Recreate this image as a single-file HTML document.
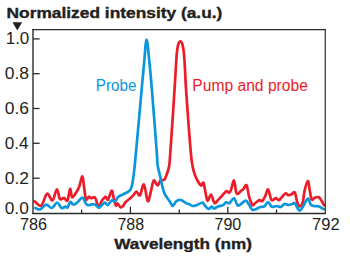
<!DOCTYPE html>
<html><head><meta charset="utf-8"><style>
html,body{margin:0;padding:0;background:#fff;}
svg{display:block;}
text{font-family:"Liberation Sans",sans-serif;}
</style></head><body>
<svg width="350" height="256" viewBox="0 0 350 256">
<rect width="350" height="256" fill="#fff"/>
<text x="6.53" y="17.60" font-size="14.60" font-weight="bold" fill="#231f20" stroke="#231f20" stroke-width="0.35" textLength="215.85" lengthAdjust="spacingAndGlyphs">Normalized intensity (a.u.)</text>
<text x="5.69" y="43.70" font-size="16.00" font-weight="normal" fill="#231f20" textLength="23.63" lengthAdjust="spacingAndGlyphs">1.0</text>
<text x="4.79" y="78.80" font-size="16.00" font-weight="normal" fill="#231f20" textLength="24.29" lengthAdjust="spacingAndGlyphs">0.8</text>
<text x="4.77" y="113.60" font-size="16.00" font-weight="normal" fill="#231f20" textLength="24.28" lengthAdjust="spacingAndGlyphs">0.6</text>
<text x="4.82" y="148.60" font-size="16.00" font-weight="normal" fill="#231f20" textLength="23.79" lengthAdjust="spacingAndGlyphs">0.4</text>
<text x="4.73" y="183.60" font-size="16.00" font-weight="normal" fill="#231f20" textLength="24.26" lengthAdjust="spacingAndGlyphs">0.2</text>
<text x="4.76" y="213.60" font-size="16.00" font-weight="normal" fill="#231f20" textLength="24.06" lengthAdjust="spacingAndGlyphs">0.0</text>
<text x="19.93" y="229.90" font-size="16.00" font-weight="normal" fill="#231f20" textLength="27.08" lengthAdjust="spacingAndGlyphs">786</text>
<text x="117.45" y="229.90" font-size="16.00" font-weight="normal" fill="#231f20" textLength="26.68" lengthAdjust="spacingAndGlyphs">788</text>
<text x="214.44" y="229.90" font-size="16.00" font-weight="normal" fill="#231f20" textLength="26.88" lengthAdjust="spacingAndGlyphs">790</text>
<text x="312.14" y="229.90" font-size="16.00" font-weight="normal" fill="#231f20" textLength="27.66" lengthAdjust="spacingAndGlyphs">792</text>
<text x="114.27" y="248.90" font-size="15.00" font-weight="bold" fill="#231f20" stroke="#231f20" stroke-width="0.35" textLength="137.80" lengthAdjust="spacingAndGlyphs">Wavelength (nm)</text>
<text x="95.83" y="91.10" font-size="16.00" font-weight="normal" fill="#0a96dc" textLength="40.55" lengthAdjust="spacingAndGlyphs">Probe</text>
<text x="192.31" y="91.20" font-size="16.00" font-weight="normal" fill="#ec1c28" textLength="115.56" lengthAdjust="spacingAndGlyphs">Pump and probe</text>
<polygon points="12.5,22.3 22.1,22.3 17.3,30.4" fill="#231f20"/>
<path d="M34.6 201.3 C35.7 202.0 39.2 206.9 41.3 205.6 C43.4 204.3 45.1 194.5 47.0 193.7 C48.9 192.8 50.9 201.2 52.5 200.5 C54.1 199.8 55.6 189.5 56.9 189.3 C58.1 189.1 58.8 197.7 60.0 199.1 C61.2 200.5 62.8 197.6 64.1 197.8 C65.3 198.0 66.5 202.0 67.5 200.5 C68.5 199.0 69.3 189.5 70.1 189.0 C70.9 188.5 71.1 197.0 72.2 197.4 C73.4 197.8 75.7 193.0 76.9 191.2 C78.1 189.4 78.4 188.9 79.3 186.5 C80.2 184.1 81.6 176.0 82.4 176.5 C83.2 177.0 83.8 185.8 84.4 189.6 C85.0 193.4 85.3 198.4 86.0 199.6 C86.7 200.8 87.9 196.9 88.7 196.7 C89.5 196.5 90.0 198.1 91.0 198.2 C92.0 198.3 93.9 196.5 94.9 197.4 C95.9 198.3 96.6 202.1 97.2 203.7 C97.9 205.3 98.0 207.3 98.8 206.8 C99.6 206.3 100.8 202.2 102.0 200.5 C103.2 198.8 104.7 196.9 105.7 196.8 C106.7 196.7 106.9 200.7 107.9 199.7 C108.9 198.7 110.7 191.5 111.6 190.8 C112.5 190.1 112.6 193.4 113.1 195.3 C113.6 197.2 114.1 200.3 114.6 202.0 C115.1 203.7 115.6 205.5 116.1 205.7 C116.6 205.9 116.8 203.2 117.5 203.4 C118.2 203.7 119.6 206.7 120.5 207.2 C121.4 207.7 121.8 207.3 122.7 206.4 C123.6 205.5 124.5 203.3 125.7 202.0 C127.0 200.7 128.8 199.6 130.2 198.3 C131.6 197.1 132.9 195.6 134.0 194.5 C135.1 193.4 135.5 191.4 136.5 191.5 C137.5 191.6 138.8 196.5 140.0 195.3 C141.2 194.1 142.6 183.5 143.9 184.5 C145.2 185.5 146.7 199.8 147.8 201.1 C148.9 202.4 149.7 195.7 150.7 192.3 C151.7 188.9 152.5 181.7 153.7 180.6 C154.8 179.5 156.5 185.5 157.6 185.5 C158.7 185.5 159.4 181.6 160.5 180.6 C161.6 179.6 163.3 180.9 164.4 179.6 C165.5 178.3 166.5 175.2 167.3 172.8 C168.1 170.4 168.8 168.8 169.3 165.0 C169.8 161.2 169.6 162.5 170.5 150.0 C171.4 137.5 173.6 104.7 174.5 90.0 C175.4 75.3 175.8 68.7 176.2 62.0 C176.6 55.3 176.8 53.0 177.2 50.0 C177.6 47.0 177.9 45.5 178.4 44.0 C178.9 42.5 179.7 41.3 180.3 41.3 C181.0 41.3 181.8 42.5 182.3 44.0 C182.8 45.5 183.1 47.0 183.5 50.0 C183.9 53.0 184.2 55.3 184.6 62.0 C185.0 68.7 185.4 79.5 186.1 90.0 C186.8 100.5 187.9 115.6 188.6 125.0 C189.3 134.4 189.8 140.4 190.3 146.5 C190.8 152.6 191.2 157.2 191.8 161.5 C192.4 165.8 193.1 169.1 194.0 172.2 C194.9 175.3 196.0 177.8 197.2 180.0 C198.4 182.2 200.1 185.0 201.2 185.5 C202.2 186.0 202.7 181.3 203.5 182.8 C204.3 184.3 205.2 191.5 205.9 194.5 C206.6 197.5 206.8 201.0 207.7 201.0 C208.5 201.0 209.9 194.2 211.0 194.5 C212.1 194.8 213.3 202.1 214.5 203.0 C215.7 203.9 216.7 201.2 218.0 200.0 C219.3 198.8 220.8 197.0 222.2 195.5 C223.6 194.0 225.4 191.5 226.6 191.1 C227.8 190.7 228.6 193.0 229.3 192.8 C230.0 192.6 230.2 192.1 231.0 190.0 C231.8 187.9 233.2 180.2 234.0 180.5 C234.8 180.8 235.4 189.4 236.0 191.7 C236.6 193.9 237.0 194.1 237.8 194.0 C238.6 193.9 240.0 191.7 240.9 190.9 C241.8 190.1 242.4 190.1 243.3 189.2 C244.2 188.3 245.6 184.1 246.6 185.3 C247.6 186.5 248.1 193.3 249.1 196.6 C250.1 199.9 251.2 203.9 252.3 205.0 C253.4 206.1 254.2 203.8 255.4 203.0 C256.6 202.2 258.2 200.4 259.3 200.1 C260.4 199.8 261.3 201.8 262.3 201.1 C263.3 200.4 264.2 198.1 265.2 196.2 C266.2 194.2 267.1 188.9 268.1 189.4 C269.1 189.9 270.2 197.3 271.0 199.1 C271.8 200.9 272.1 200.2 272.9 200.1 C273.7 199.9 274.9 198.2 275.9 198.2 C276.9 198.2 277.7 200.4 278.8 200.1 C279.9 199.8 281.6 197.3 282.7 196.2 C283.8 195.1 284.6 193.5 285.6 193.3 C286.6 193.1 287.5 195.0 288.5 195.2 C289.5 195.4 290.4 194.8 291.5 194.3 C292.6 193.9 293.9 191.3 294.8 192.5 C295.7 193.7 296.3 199.3 297.1 201.6 C297.9 203.9 298.5 205.9 299.4 206.2 C300.3 206.5 301.6 205.9 302.5 203.2 C303.4 200.5 303.8 193.9 304.7 190.2 C305.6 186.5 307.0 181.2 307.8 181.0 C308.6 180.8 308.9 185.6 309.5 188.7 C310.1 191.8 310.8 197.9 311.6 199.4 C312.5 200.9 313.5 198.2 314.6 197.8 C315.7 197.4 317.4 196.8 318.4 197.1 C319.4 197.4 319.8 198.1 320.7 199.4 C321.6 200.7 323.2 203.7 323.8 204.7 C324.4 205.7 324.2 205.1 324.3 205.2" fill="none" stroke="#ec1c28" stroke-width="2.7" stroke-linejoin="round" stroke-linecap="round"/>
<path d="M35.4 208.0 C36.2 208.2 38.4 210.0 40.2 209.4 C42.0 208.8 44.4 204.8 46.3 204.6 C48.2 204.4 50.0 208.3 51.8 208.0 C53.6 207.7 55.7 202.5 57.3 202.5 C58.9 202.5 60.0 207.3 61.4 208.0 C62.8 208.7 64.5 206.7 65.5 206.6 C66.5 206.5 66.7 208.3 67.5 207.5 C68.3 206.7 69.4 202.5 70.3 202.0 C71.2 201.5 71.9 204.3 73.0 204.5 C74.1 204.7 75.3 204.1 76.9 202.9 C78.5 201.8 81.0 197.6 82.4 197.6 C83.8 197.6 84.6 201.6 85.5 202.9 C86.4 204.2 87.0 204.9 87.9 205.2 C88.8 205.5 89.8 204.6 91.0 204.5 C92.2 204.4 93.6 204.0 94.9 204.5 C96.2 205.0 97.8 207.3 98.8 207.6 C99.8 207.8 100.0 206.8 101.0 206.0 C102.0 205.2 103.8 202.9 104.9 202.7 C106.1 202.5 106.8 205.4 107.9 205.0 C109.0 204.6 110.4 201.1 111.6 200.5 C112.8 199.9 114.2 201.8 115.3 201.2 C116.4 200.6 116.8 198.0 118.3 196.8 C119.8 195.6 122.2 194.9 124.2 193.8 C126.2 192.7 128.8 191.8 130.2 190.1 C131.6 188.4 131.7 187.3 132.4 183.4 C133.1 179.5 134.0 172.5 134.6 166.9 C135.2 161.3 135.0 162.8 136.2 150.0 C137.4 137.2 140.3 104.7 141.6 90.0 C142.9 75.3 143.4 70.4 144.2 62.0 C145.0 53.6 145.7 39.6 146.6 39.6 C147.5 39.6 148.5 53.4 149.4 62.0 C150.3 70.6 150.8 76.3 152.0 91.0 C153.2 105.7 155.7 137.7 156.6 150.0 C157.5 162.3 157.0 160.5 157.6 165.0 C158.2 169.5 159.5 173.3 160.3 177.0 C161.1 180.7 161.8 184.2 162.5 187.0 C163.2 189.8 163.8 191.8 164.5 193.5 C165.2 195.2 166.1 196.2 167.0 197.5 C167.9 198.8 168.8 200.1 169.8 201.5 C170.8 202.9 171.8 206.1 172.9 206.0 C174.0 205.9 174.9 202.2 176.2 201.2 C177.5 200.2 179.2 199.8 180.5 199.9 C181.8 200.0 183.1 201.3 184.2 201.9 C185.2 202.5 186.0 203.2 186.8 203.6 C187.6 203.9 188.1 203.6 189.0 204.0 C189.9 204.4 191.2 205.8 192.5 206.0 C193.8 206.2 195.3 205.6 197.0 205.0 C198.7 204.4 201.2 202.5 202.5 202.5 C203.8 202.5 203.5 203.9 204.5 205.0 C205.5 206.1 207.3 208.8 208.5 209.0 C209.7 209.2 210.6 206.6 211.5 206.5 C212.4 206.4 212.9 208.5 214.0 208.5 C215.1 208.5 216.5 207.1 218.0 206.5 C219.5 205.9 221.8 205.8 223.1 205.1 C224.4 204.4 225.0 202.6 226.1 202.3 C227.2 202.0 228.1 203.8 229.4 203.1 C230.7 202.4 232.6 198.0 234.0 198.4 C235.4 198.8 236.4 204.5 237.6 205.4 C238.8 206.3 239.5 204.8 240.9 204.0 C242.3 203.2 244.4 200.6 245.8 200.7 C247.2 200.8 248.0 203.3 249.1 204.8 C250.2 206.3 251.2 209.1 252.4 209.8 C253.6 210.5 255.1 209.4 256.4 208.9 C257.7 208.4 259.0 207.4 260.3 207.0 C261.6 206.6 262.9 207.2 264.2 206.4 C265.5 205.6 267.0 202.2 268.1 202.1 C269.2 202.0 270.2 205.2 271.0 206.0 C271.8 206.8 271.9 207.0 272.9 207.0 C273.9 207.0 275.5 206.0 276.8 206.0 C278.1 206.0 279.4 207.3 280.7 207.0 C282.0 206.7 283.3 204.3 284.6 204.0 C285.9 203.7 287.2 205.0 288.5 205.0 C289.8 205.0 291.3 204.3 292.4 204.0 C293.4 203.7 293.6 202.1 294.8 203.2 C296.0 204.3 298.0 210.1 299.4 210.6 C300.8 211.1 301.8 208.2 303.2 206.2 C304.6 204.2 306.5 198.8 307.8 198.6 C309.1 198.3 309.7 203.4 310.8 204.7 C311.9 206.0 313.3 205.9 314.6 206.2 C315.9 206.4 316.9 205.7 318.4 206.2 C319.9 206.7 322.9 208.7 323.8 209.2" fill="none" stroke="#0a96dc" stroke-width="2.7" stroke-linejoin="round" stroke-linecap="round"/>
<g stroke="#2d2a2b" stroke-width="1.3"><line x1="33" y1="38.9" x2="39.6" y2="38.9"/><line x1="33" y1="73.7" x2="39.6" y2="73.7"/><line x1="33" y1="108.5" x2="39.6" y2="108.5"/><line x1="33" y1="143.3" x2="39.6" y2="143.3"/><line x1="33" y1="178.2" x2="39.6" y2="178.2"/><line x1="81.6" y1="213.5" x2="81.6" y2="209.5"/><line x1="130.4" y1="213.5" x2="130.4" y2="206.7"/><line x1="179.2" y1="213.5" x2="179.2" y2="209.5"/><line x1="227.8" y1="213.5" x2="227.8" y2="206.7"/><line x1="276.5" y1="213.5" x2="276.5" y2="209.5"/></g>
<g stroke="#2d2a2b" fill="none"><line x1="33" y1="28.9" x2="33" y2="214" stroke-width="1.4"/><line x1="32.3" y1="29.6" x2="325.9" y2="29.6" stroke-width="1.2"/><line x1="325.25" y1="29" x2="325.25" y2="214" stroke-width="1.2"/><line x1="32.3" y1="213.5" x2="325.9" y2="213.5" stroke-width="1.3"/></g>
</svg>
</body></html>
